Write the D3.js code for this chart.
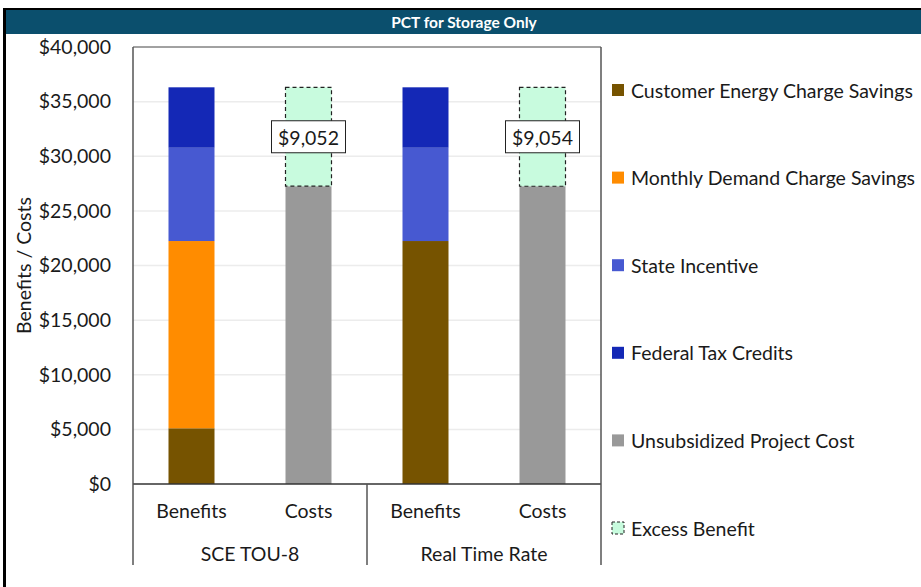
<!DOCTYPE html>
<html>
<head>
<meta charset="utf-8">
<script src="https://cdn.jsdelivr.net/npm/d3@7/dist/d3.min.js"></script>
<style>
  html, body { margin: 0; padding: 0; background: #fff; }
  svg { display: block; }
  text { font-family: Lato, "Open Sans", sans-serif; fill: #1a1a1a; }
</style>
</head>
<body>
<svg id="chart" width="921" height="587"></svg>
<script>
// ---- data ----
const chartTitle = "PCT for Storage Only";
const groups = ["SCE TOU-8", "Real Time Rate"];
const barTypes = ["Benefits", "Costs"];
const seriesNames = ["Customer Energy Charge Savings", "Monthly Demand Charge Savings", "State Incentive", "Federal Tax Credits", "Unsubsidized Project Cost", "Excess Benefit"];
const energySavings     = [5100, 0, 22240, 0];
const demandSavings     = [17140, 0, 0, 0];
const stateIncentive    = [8540, 0, 8540, 0];
const federalTaxCredits = [5530, 0, 5530, 0];
const unsubsidizedCost  = [0, 27258, 0, 27256];
const excessBenefit     = [0, 9052, 0, 9054];
const yTicks = [0, 5000, 10000, 15000, 20000, 25000, 30000, 35000, 40000];
const seriesColors = ["#765300", "#ff8c00", "#4759d1", "#1428b6", "#999999", "#c8fbde"];

// ---- build rows ----
const keys = ["energy", "demand", "state", "federal", "unsub", "excess"];
const rows = [];
groups.forEach((g, gi) => barTypes.forEach((b, bi) => {
  const i = gi * 2 + bi;
  rows.push({ id: g + "|" + b, group: g, type: b,
    energy: energySavings[i], demand: demandSavings[i], state: stateIncentive[i],
    federal: federalTaxCredits[i], unsub: unsubsidizedCost[i], excess: excessBenefit[i] });
}));

const svg = d3.select("#chart");
const W = 921, H = 587;
const plot = { left: 133, right: 601, top: 47, bottom: 484 };
const FS = "19.5px";

// frame
svg.append("rect").attr("x", 0).attr("y", 0).attr("width", W).attr("height", H).attr("fill", "#fff");
svg.append("rect").attr("x", 3).attr("y", 8).attr("width", W - 3).attr("height", 2).attr("fill", "#000");
svg.append("rect").attr("x", 3).attr("y", 8).attr("width", 3).attr("height", H - 8).attr("fill", "#000");
svg.append("rect").attr("x", 6).attr("y", 10).attr("width", W - 6).attr("height", 24).attr("fill", "#0b4f6d");
svg.append("text").attr("x", 464).attr("y", 22).attr("text-anchor", "middle").attr("dominant-baseline", "central")
  .style("font-size", "15.5px").style("font-weight", "bold").style("fill", "#fff").text(chartTitle);

// scales
const x = d3.scaleBand().domain(rows.map(d => d.id)).range([plot.left, plot.right])
  .paddingInner(71 / 117).paddingOuter(71 / 117 / 2);
const y = d3.scaleLinear().domain([0, 40000]).range([plot.bottom, plot.top]);

// gridlines
svg.append("g").selectAll("line").data(yTicks.filter(t => t > 0 && t < 40000)).join("line")
  .attr("x1", plot.left).attr("x2", plot.right).attr("y1", d => y(d)).attr("y2", d => y(d))
  .attr("stroke", "#ececec").attr("stroke-width", 1.5);

// y axis labels
const yAxis = d3.axisLeft(y).tickValues(yTicks).tickSize(0).tickPadding(22)
  .tickFormat(d => "$" + d3.format(",")(d));
const gy = svg.append("g").attr("transform", `translate(${plot.left},0)`).call(yAxis);
gy.select(".domain").remove();
gy.selectAll("text").style("font-size", FS).style("font-family", "Lato, sans-serif").attr("fill", "#1a1a1a");

svg.append("text").attr("transform", `translate(23,${(plot.top + plot.bottom) / 2}) rotate(-90)`)
  .attr("text-anchor", "middle").attr("dominant-baseline", "central").style("font-size", FS).text("Benefits / Costs");

// stacked bars
const stack = d3.stack().keys(keys);
const stacked = stack(rows);
const layers = svg.append("g").selectAll("g").data(stacked).join("g")
  .attr("fill", (d, i) => seriesColors[i]);
layers.selectAll("rect").data(d => d.map(p => ({ p, key: d.key }))).join("rect")
  .filter(d => d.p[1] - d.p[0] > 0)
  .attr("x", d => x(d.p.data.id)).attr("width", x.bandwidth())
  .attr("y", d => y(d.p[1])).attr("height", d => y(d.p[0]) - y(d.p[1]))
  .attr("stroke", d => d.key === "excess" ? "#222" : "none")
  .attr("stroke-dasharray", d => d.key === "excess" ? "4,3" : null)
  .attr("stroke-width", 1.2);

// excess labels
const excessLayer = stacked[keys.indexOf("excess")];
const lab = svg.append("g").selectAll("g").data(excessLayer.filter(p => p[1] - p[0] > 0)).join("g")
  .attr("transform", p => `translate(${x(p.data.id) + x.bandwidth() / 2},${(y(p[0]) + y(p[1])) / 2})`);
lab.append("rect").attr("x", -37).attr("y", -16).attr("width", 74).attr("height", 32)
  .attr("fill", "#fff").attr("stroke", "#222").attr("stroke-width", 1);
lab.append("text").attr("text-anchor", "middle").attr("dominant-baseline", "central").attr("y", 1)
  .style("font-size", FS).text(p => "$" + d3.format(",")(p.data.excess));

// plot border
svg.append("line").attr("x1", plot.left).attr("x2", plot.right).attr("y1", plot.top).attr("y2", plot.top).attr("stroke", "#444");
svg.append("line").attr("x1", plot.left).attr("x2", plot.right).attr("y1", plot.bottom).attr("y2", plot.bottom).attr("stroke", "#333").attr("stroke-width", 1.5);
const catBottom = 565;
const gx0 = d3.scaleBand().domain(groups).range([plot.left, plot.right]);
const dividers = [plot.left, ...groups.map(g => gx0(g) + gx0.bandwidth())];
svg.append("g").selectAll("line").data(dividers).join("line")
  .attr("x1", d => d).attr("x2", d => d)
  .attr("y1", (d, i) => (i === 1 ? plot.bottom : plot.top)).attr("y2", catBottom)
  .attr("stroke", "#555").attr("stroke-width", 1.5);

// x axis labels
const xAxis = d3.axisBottom(x).tickSize(0).tickPadding(20).tickFormat(id => id.split("|")[1]);
const gxa = svg.append("g").attr("transform", `translate(0,${plot.bottom})`).call(xAxis);
gxa.select(".domain").remove();
gxa.selectAll("text").style("font-size", FS).style("font-family", "Lato, sans-serif").attr("fill", "#1a1a1a");

svg.append("g").selectAll("text").data(groups).join("text")
  .attr("x", g => gx0(g) + gx0.bandwidth() / 2).attr("y", 553)
  .attr("text-anchor", "middle").attr("dominant-baseline", "central").style("font-size", FS).text(g => g);

// legend
const legY = d3.scalePoint().domain(seriesNames).range([90, 528]);
const leg = svg.append("g").selectAll("g").data(seriesNames).join("g")
  .attr("transform", n => `translate(612,${legY(n)})`);
leg.append("rect").attr("x", 0).attr("y", -6).attr("width", 12).attr("height", 12)
  .attr("fill", (n, i) => seriesColors[i])
  .attr("stroke", (n, i) => i === 5 ? "#222" : "none").attr("stroke-dasharray", "3,2").attr("stroke-width", 1);
leg.append("text").attr("x", 19).attr("y", 0).attr("dominant-baseline", "central").style("font-size", FS).text(n => n);
</script>
</body>
</html>
